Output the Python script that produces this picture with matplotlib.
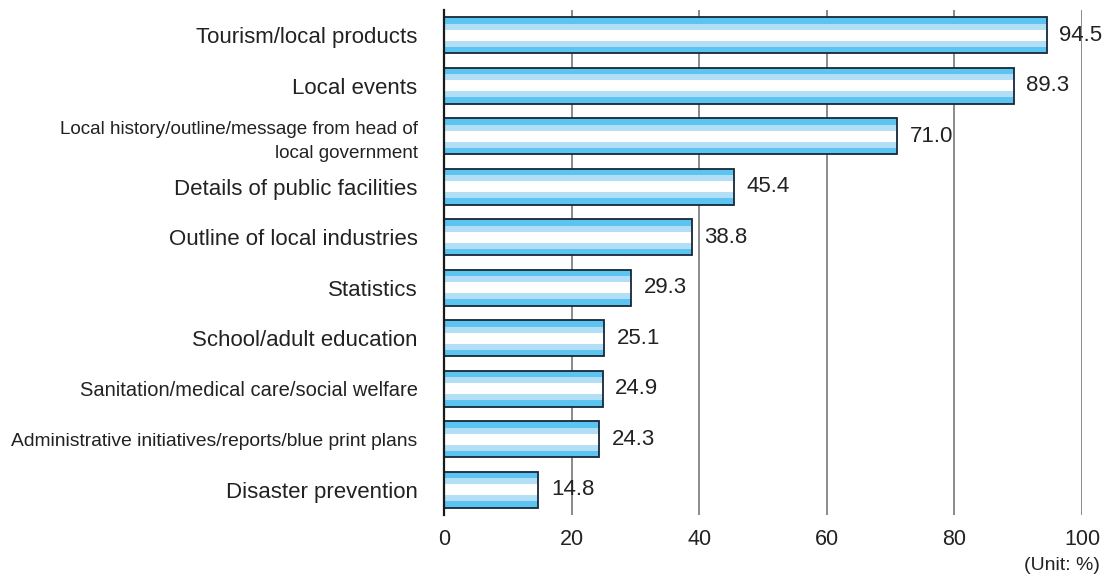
import matplotlib
matplotlib.use("Agg")
import matplotlib.pyplot as plt

categories = [
    "Tourism/local products",
    "Local events",
    "Local history/outline/message from head of\nlocal government",
    "Details of public facilities",
    "Outline of local industries",
    "Statistics",
    "School/adult education",
    "Sanitation/medical care/social welfare",
    "Administrative initiatives/reports/blue print plans",
    "Disaster prevention",
]
values = [94.5, 89.3, 71.0, 45.4, 38.8, 29.3, 25.1, 24.9, 24.3, 14.8]
x_ticks = [0, 20, 40, 60, 80, 100]
# long labels are set a little smaller so they fit beside the axis
label_sizes = {2: 13.6, 7: 14.5, 8: 13.9}

plt.rcParams["font.family"] = ["Liberation Sans", "DejaVu Sans"]

fig = plt.figure(figsize=(11.07, 5.84), dpi=100)
ax = fig.add_axes([444 / 1107, 1 - 515 / 584, (1082 - 444) / 1107, 505 / 584])

ypos = list(range(len(categories)))
h = 0.71
mid = "#5cc4f0"
light = "#b3dff6"

ax.barh(ypos, values, height=h, color=mid, edgecolor="none", zorder=2)
ax.barh(ypos, values, height=h * 0.64, color=light, edgecolor="none", zorder=3)
ax.barh(ypos, values, height=h * 0.31, color="white", edgecolor="none", zorder=4)
ax.barh(ypos, values, height=h, fill=False, edgecolor="#17283a", linewidth=1.3, zorder=5)

for y, v in zip(ypos, values):
    ax.annotate(f"{v:.1f}", xy=(v, y), xytext=(9, 0), textcoords="offset points",
                va="center", ha="left", fontsize=16, color="#222222", zorder=7)

ax.set_xlim(0, 100)
ax.set_ylim(len(categories) - 0.5, -0.5)
ax.set_xticks(x_ticks)
ax.set_xticklabels([str(t) for t in x_ticks], fontsize=15.5, color="#222222")
ax.set_yticks(ypos)
ax.set_yticklabels(categories, fontsize=16, color="#222222")
for i, lab in enumerate(ax.get_yticklabels()):
    if i in label_sizes:
        lab.set_fontsize(label_sizes[i])
        lab.set_linespacing(1.5)

ax.tick_params(axis="y", length=0, pad=19)
ax.tick_params(axis="x", length=0, pad=10)

ax.xaxis.grid(True, color="#8a8a8a", linewidth=1.4, zorder=1)
ax.set_axisbelow(True)
for s in ("top", "right", "bottom"):
    ax.spines[s].set_visible(False)
ax.spines["left"].set_color("#1a1a1a")
ax.spines["left"].set_linewidth(1.6)
ax.spines["left"].set_zorder(6)

fig.text(1100 / 1107, 1 - 566 / 584, "(Unit: %)", ha="right", va="center",
         fontsize=14, color="#222222")

fig.savefig("out.png", dpi=100, facecolor="white")
